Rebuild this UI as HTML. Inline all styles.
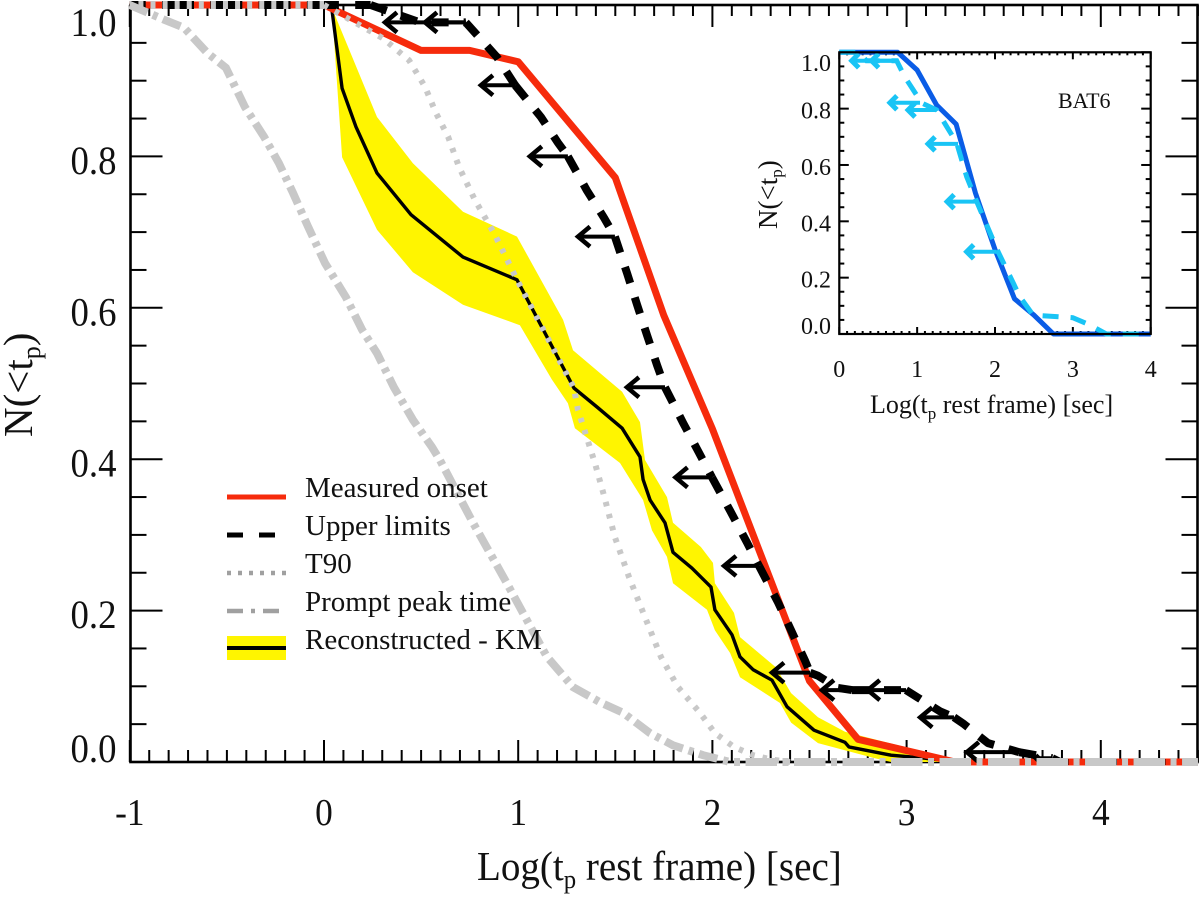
<!DOCTYPE html>
<html>
<head>
<meta charset="utf-8">
<title>N(&lt;tp) cumulative distribution</title>
<style>
html,body{margin:0;padding:0;background:#fff;}
svg{display:block;}
text{font-family:"Liberation Serif",serif;fill:#111;}
</style>
</head>
<body>
<svg id="chart" xmlns="http://www.w3.org/2000/svg" width="1200" height="900" viewBox="0 0 1200 900">
  <rect x="0" y="0" width="1200" height="900" fill="#fff"/>
  <g id="main-axes"></g>
  <g id="main-series"></g>
  <g id="main-labels"></g>

  <text transform="translate(477,880) scale(0.953,1)" font-size="41">Log(t<tspan font-size="26" dy="8">p</tspan><tspan dy="-8"> rest frame) [sec]</tspan></text>
  <text transform="translate(32,437) rotate(-90)" font-size="41">N(&lt;t<tspan font-size="26" dy="8">p</tspan><tspan dy="-8">)</tspan></text>

  <g>
    <line x1="227" x2="286" y1="497" y2="497" stroke="#f62b0c" stroke-width="5"/>
    <text x="305" y="497" font-size="29">Measured onset</text>
    <line x1="227" x2="286" y1="535" y2="535" stroke="#000" stroke-width="5" stroke-dasharray="16 16"/>
    <text x="305" y="535" font-size="29">Upper limits</text>
    <line x1="227" x2="286" y1="573" y2="573" stroke="#a0a0a0" stroke-width="4.5" stroke-dasharray="4 7"/>
    <text x="305" y="573" font-size="29">T90</text>
    <line x1="227" x2="286" y1="611" y2="611" stroke="#a0a0a0" stroke-width="4.5" stroke-dasharray="16 8 4 8"/>
    <text x="305" y="611" font-size="29">Prompt peak time</text>
    <rect x="227" y="636" width="59" height="24" fill="#fff500"/>
    <line x1="227" x2="286" y1="648" y2="648" stroke="#000" stroke-width="4"/>
    <text x="305" y="649" font-size="29">Reconstructed - KM</text>
  </g>

  <g id="inset-axes"></g>
  <g id="inset-series"></g>
  <g id="inset-labels"></g>
  <rect x="839.3" y="52.3" width="311.4" height="281.7" fill="none" stroke="#000" stroke-width="2.2"/>
  <text x="870" y="413" font-size="26">Log(t<tspan font-size="17" dy="6">p</tspan><tspan dy="-6"> rest frame) [sec]</tspan></text>
  <text transform="translate(777,229) rotate(-90)" font-size="27">N(&lt;t<tspan font-size="17" dy="5">p</tspan><tspan dy="-5">)</tspan></text>
  <text x="1058" y="108" font-size="22">BAT6</text>
</svg>
<script>
// ---- main panel data ----
const xTickValues = [-1, 0, 1, 2, 3, 4];
const xTickLabels = ["-1", "0", "1", "2", "3", "4"];
const yTickValues = [0, 0.2, 0.4, 0.6, 0.8, 1.0];
const yTickLabels = ["0.0", "0.2", "0.4", "0.6", "0.8", "1.0"];

const measuredX = [-1, 0, 0.5, 0.75, 1, 1.5, 1.75, 2, 2.25, 2.5, 2.75, 3, 3.25, 4.5];
const measuredY = [1, 1, 0.94, 0.94, 0.925, 0.772, 0.59, 0.44, 0.273, 0.107, 0.03, 0.015, 0, 0];

const limitsX = [-1, 0.24, 0.495, 0.73, 0.891, 0.984, 1.117, 1.205, 1.256, 1.354, 1.442, 1.498, 1.56, 1.612, 1.663, 1.715, 1.756, 1.849, 1.926, 1.998, 2.091, 2.178, 2.24, 2.338, 2.405, 2.477, 2.503, 2.544, 2.642, 2.719, 2.997, 3.059, 3.172, 3.244, 3.295, 3.419, 3.58, 3.75, 3.79, 4.5];
const limitsY = [1, 1, 0.977, 0.977, 0.931, 0.894, 0.852, 0.818, 0.8, 0.755, 0.719, 0.694, 0.646, 0.604, 0.564, 0.524, 0.495, 0.448, 0.411, 0.376, 0.332, 0.29, 0.259, 0.211, 0.174, 0.134, 0.118, 0.114, 0.098, 0.095, 0.095, 0.085, 0.067, 0.059, 0.05, 0.025, 0.013, 0.005, 0, 0];

const arrowHeadX = [0.314, 0.52, 0.808, 1.06, 1.308, 1.56, 1.81, 2.06, 2.307, 2.564, 2.8, 3.07, 3.31, 3.666];
const arrowTailX = [0.73, 0.73, 0.984, 1.256, 1.498, 1.756, 1.998, 2.24, 2.503, 2.719, 2.997, 3.244, 3.58, 3.75];
const arrowY = [0.977, 0.977, 0.894, 0.8, 0.694, 0.495, 0.376, 0.259, 0.118, 0.095, 0.095, 0.059, 0.013, 0.005];

const t90X = [-1, 0, 0.304, 0.438, 0.52, 0.577, 0.639, 0.695, 0.778, 0.875, 0.994, 1.287, 1.308, 1.344, 1.395, 1.442, 1.498, 1.571, 1.658, 1.735, 1.823, 1.936, 2.013, 2.111, 2.209, 2.307, 2.4, 4.5];
const t90Y = [1, 1, 0.956, 0.927, 0.892, 0.857, 0.826, 0.786, 0.742, 0.699, 0.637, 0.494, 0.465, 0.436, 0.395, 0.352, 0.297, 0.244, 0.188, 0.139, 0.099, 0.065, 0.038, 0.02, 0.009, 0.003, 0, 0];

const promptX = [-1, -0.819, -0.721, -0.602, -0.505, -0.407, -0.309, -0.232, -0.16, -0.082, 0.005, 0.113, 0.196, 0.273, 0.36, 0.458, 0.556, 0.597, 0.767, 0.855, 0.942, 1.035, 1.148, 1.205, 1.282, 1.421, 1.54, 1.679, 1.797, 1.952, 2.091, 4.5];
const promptY = [1, 0.98, 0.97, 0.937, 0.917, 0.865, 0.826, 0.791, 0.752, 0.707, 0.659, 0.614, 0.571, 0.54, 0.495, 0.452, 0.416, 0.399, 0.316, 0.276, 0.236, 0.192, 0.139, 0.122, 0.099, 0.079, 0.065, 0.038, 0.022, 0.009, 0, 0];

const kmX = [0, 0.041, 0.093, 0.165, 0.273, 0.448, 0.716, 0.994, 1.287, 1.406, 1.535, 1.627, 1.643, 1.679, 1.756, 1.797, 1.895, 1.993, 2.013, 2.101, 2.142, 2.209, 2.307, 2.384, 2.523, 2.683, 2.703, 2.92, 3.095, 3.254];
const kmY = [1, 0.993, 0.89, 0.839, 0.778, 0.723, 0.667, 0.637, 0.494, 0.469, 0.441, 0.403, 0.373, 0.346, 0.316, 0.277, 0.256, 0.231, 0.201, 0.168, 0.139, 0.122, 0.108, 0.073, 0.042, 0.026, 0.02, 0.009, 0.005, 0];

const bandUpperX = [0, 0.046, 0.273, 0.458, 0.716, 0.994, 1.231, 1.282, 1.535, 1.627, 1.653, 1.766, 1.797, 1.941, 2.003, 2.013, 2.111, 2.142, 2.327, 2.405, 2.544, 2.683, 3.095, 3.234, 3.254];
const bandUpperY = [1, 0.993, 0.852, 0.791, 0.727, 0.694, 0.584, 0.544, 0.489, 0.449, 0.399, 0.35, 0.316, 0.284, 0.263, 0.236, 0.197, 0.165, 0.125, 0.091, 0.059, 0.04, 0.013, 0.003, 0];
const bandLowerX = [0.041, 0.067, 0.093, 0.273, 0.458, 0.716, 1.009, 1.174, 1.256, 1.292, 1.524, 1.643, 1.689, 1.766, 1.797, 1.972, 2.013, 2.091, 2.142, 2.348, 2.405, 2.544, 2.837, 2.92];
const bandLowerY = [0.993, 0.897, 0.799, 0.703, 0.647, 0.604, 0.577, 0.505, 0.474, 0.441, 0.395, 0.346, 0.306, 0.271, 0.236, 0.201, 0.174, 0.144, 0.112, 0.078, 0.052, 0.025, 0.005, 0];

// ---- inset data ----
const insetXTickValues = [0, 1, 2, 3, 4];
const insetXTickLabels = ["0", "1", "2", "3", "4"];
const insetYTickValues = [0, 0.2, 0.4, 0.6, 0.8, 1.0];
const insetYTickLabels = ["0.0", "0.2", "0.4", "0.6", "0.8", "1.0"];
const batMeasuredX = [0, 0.75, 1, 1.25, 1.5, 1.75, 2, 2.25, 2.5, 2.75, 4];
const batMeasuredY = [1, 1, 0.937, 0.813, 0.745, 0.5, 0.3, 0.125, 0.067, 0, 0];
const batLimitsX = [0, 0.25, 0.35, 0.737, 0.84, 1.06, 1.25, 1.508, 1.636, 1.765, 2.04, 2.32, 2.49, 3.0, 3.22, 3.43, 4];
const batLimitsY = [1, 1, 0.97, 0.97, 0.913, 0.82, 0.795, 0.678, 0.558, 0.47, 0.292, 0.132, 0.067, 0.058, 0.032, 0, 0];
const batArrowHeadX = [0.16, 0.415, 0.65, 0.883, 1.14, 1.385, 1.636];
const batArrowTailX = [0.737, 0.737, 1.037, 1.25, 1.525, 1.765, 2.02];
const batArrowY = [0.97, 0.97, 0.821, 0.795, 0.675, 0.47, 0.292];

// ---- scales ----
function sx(v) { return 324 + v * 194.2; }
function sy(v) { return 762 - v * 757; }
function ix(v) { return 839.3 + v * 77.85; }
function iy(v) { return 334 - v * 281.7; }

const NS = "http://www.w3.org/2000/svg";
function mk(parent, tag, attrs) {
  const e = document.createElementNS(NS, tag);
  for (const k in attrs) e.setAttribute(k, attrs[k]);
  parent.appendChild(e);
  return e;
}
function pathFrom(xs, ys, fx, fy) {
  return xs.map((v, i) => (i ? "L" : "M") + fx(v).toFixed(1) + " " + fy(ys[i]).toFixed(1)).join(" ");
}
function pmod(a, m) { return ((a % m) + m) % m; }
const mainAxes = document.getElementById("main-axes");
const mainSeries = document.getElementById("main-series");
const mainLabels = document.getElementById("main-labels");
const insetAxes = document.getElementById("inset-axes");
const insetSeries = document.getElementById("inset-series");
const insetLabels = document.getElementById("inset-labels");

// ---- main axes ----
const frame = mk(mainAxes, "rect", {x: 130.5, y: 5, width: 1067, height: 757, fill: "none", stroke: "#000", "stroke-width": 2.6});



for (let i = -10; i <= 45; i++) {
  const v = i / 10;
  const major = i % 10 === 0;
  const botLen = major ? 22 : 12;
  const topLen = major ? 22 : 11;
  const b = mk(mainAxes, "line", {x1: sx(v), x2: sx(v), y1: 762, y2: 762 - botLen, stroke: "#000", "stroke-width": 2});
  
  
  const t = mk(mainAxes, "line", {x1: sx(v), x2: sx(v), y1: 5, y2: 5 + topLen, stroke: "#000", "stroke-width": 2});
  
  
}
for (let i = 0; i <= 20; i++) {
  const v = i / 20;
  const major = i % 4 === 0;
  const len = major ? 32 : 16;
  const l = mk(mainAxes, "line", {x1: 130.5, x2: 130.5 + len, y1: sy(v), y2: sy(v), stroke: "#000", "stroke-width": 2});
  
  
  const r = mk(mainAxes, "line", {x1: 1197.5, x2: 1197.5 - len, y1: sy(v), y2: sy(v), stroke: "#000", "stroke-width": 2});
  
  
}
xTickValues.forEach((v, i) => {
  const t = mk(mainLabels, "text", {transform: "translate(" + sx(v) + ",825) scale(0.93,1)", "text-anchor": "middle", "font-size": 38});
  t.textContent = xTickLabels[i];
  
  
});
yTickValues.forEach((v, i) => {
  const base = Math.max(36, Math.min(762, sy(v) + 17.5));
  const t = mk(mainLabels, "text", {transform: "translate(116.5," + base + ") scale(0.92,1)", "text-anchor": "end", "font-size": 40});
  t.textContent = yTickLabels[i];
  
  
});

// ---- main series ----
const bandD = pathFrom(bandUpperX, bandUpperY, sx, sy) + " " +
  bandLowerX.slice().reverse().map((v, i) => "L" + sx(v).toFixed(1) + " " + sy(bandLowerY[bandLowerY.length - 1 - i]).toFixed(1)).join(" ") + " Z";
const band = mk(mainSeries, "path", {d: bandD, fill: "#fff500", stroke: "none"});



const kmLine = mk(mainSeries, "path", {d: pathFrom(kmX, kmY, sx, sy), fill: "none", stroke: "#000", "stroke-width": 3.4, "stroke-linejoin": "round"});



const measuredLine = mk(mainSeries, "path", {d: pathFrom(measuredX, measuredY, sx, sy), fill: "none", stroke: "#f62b0c", "stroke-width": 7, "stroke-linejoin": "round"});



// Upper-limits line: long dashes on the flat ends, dash pattern restarts at each arrow tail.
const limFlatTopEnd = limitsY.lastIndexOf(1);
const limFlatBotStart = limitsY.indexOf(0);
const limTopLine = mk(mainSeries, "path", {
  d: pathFrom(limitsX.slice(0, limFlatTopEnd + 1), limitsY.slice(0, limFlatTopEnd + 1), sx, sy),
  fill: "none", stroke: "#000", "stroke-width": 8, "stroke-dasharray": "32 16.3",
  "stroke-dashoffset": pmod(sx(limitsX[0]) - 113.7, 48.3)
});


const limBotLine = mk(mainSeries, "path", {
  d: pathFrom(limitsX.slice(limFlatBotStart), limitsY.slice(limFlatBotStart), sx, sy),
  fill: "none", stroke: "#000", "stroke-width": 6, "stroke-dasharray": "32 16.5",
  "stroke-dashoffset": pmod(sx(limitsX[limFlatBotStart]) - 1036.5, 48.5)
});


let segStart = limFlatTopEnd;
for (let i = limFlatTopEnd + 1; i <= limFlatBotStart; i++) {
  if (arrowTailX.includes(limitsX[i]) || i === limFlatBotStart) {
    const seg = mk(mainSeries, "path", {
      d: pathFrom(limitsX.slice(segStart, i + 1), limitsY.slice(segStart, i + 1), sx, sy),
      fill: "none", stroke: "#000", "stroke-width": 8, "stroke-dasharray": "17 15", "stroke-linejoin": "round"
    });
    
    
    segStart = i;
  }
}

arrowHeadX.forEach((h, i) => {
  const y = sy(arrowY[i]);
  const hx = sx(h);
  const small = i === arrowHeadX.length - 1;
  const ah = small ? 3 : 10;
  const aw = small ? 3 : 12;
  const shaft = mk(mainSeries, "line", {x1: hx, x2: sx(arrowTailX[i]), y1: y, y2: y, stroke: "#000", "stroke-width": 4});
  
  
  const head = mk(mainSeries, "path", {d: "M" + (hx + aw) + " " + (y - ah) + " L" + hx + " " + y + " L" + (hx + aw) + " " + (y + ah), fill: "none", stroke: "#000", "stroke-width": 4.5});
  
  
});

// T90: dots, period commensurate with the prompt pattern on the flat ends.
const t90TopEnd = t90Y.lastIndexOf(1);
const t90BotStart = t90Y.indexOf(0);
const t90Top = mk(mainSeries, "path", {
  d: pathFrom(t90X.slice(0, t90TopEnd + 1), t90Y.slice(0, t90TopEnd + 1), sx, sy),
  fill: "none", stroke: "#c8c8c8", "stroke-width": 8, "stroke-dasharray": "5 7.08",
  "stroke-dashoffset": pmod(sx(t90X[0]) - 150.5, 12.08)
});


const t90Line = mk(mainSeries, "path", {d: pathFrom(t90X.slice(t90TopEnd, t90BotStart + 1), t90Y.slice(t90TopEnd, t90BotStart + 1), sx, sy), fill: "none", stroke: "#c8c8c8", "stroke-width": 6, "stroke-dasharray": "4.5 8"});


const t90Bot = mk(mainSeries, "path", {
  d: pathFrom(t90X.slice(t90BotStart), t90Y.slice(t90BotStart), sx, sy),
  fill: "none", stroke: "#c8c8c8", "stroke-width": 6, "stroke-dasharray": "4.5 7.625",
  "stroke-dashoffset": pmod(sx(t90X[t90BotStart]) - 977.75, 12.125)
});



const flatStart = promptY.indexOf(0);
const promptCurve = mk(mainSeries, "path", {d: pathFrom(promptX.slice(0, flatStart + 1), promptY.slice(0, flatStart + 1), sx, sy), fill: "none", stroke: "#c8c8c8", "stroke-width": 8, "stroke-dasharray": "19 6 5 6"});


const promptFlat = mk(mainSeries, "path", {
  d: pathFrom(promptX.slice(flatStart), promptY.slice(flatStart), sx, sy),
  fill: "none", stroke: "#c8c8c8", "stroke-width": 8, "stroke-dasharray": "31.5 5.5 6 5.5",
  "stroke-dashoffset": pmod(sx(promptX[flatStart]) - 988, 48.5)
});



// ---- inset axes ----
for (let i = 0; i <= 40; i++) {
  const v = i / 10;
  const major = i % 10 === 0;
  const len = major ? 7 : 3;
  const b = mk(insetAxes, "line", {x1: ix(v), x2: ix(v), y1: 334, y2: 334 - len, stroke: "#000", "stroke-width": 2});
  
  
  const t = mk(insetAxes, "line", {x1: ix(v), x2: ix(v), y1: 52.3, y2: 52.3 + len, stroke: "#000", "stroke-width": 2});
  
  
}
for (let i = 0; i <= 20; i++) {
  const v = i / 20;
  const major = i % 4 === 0;
  const len = major ? 9.5 : 5;
  const l = mk(insetAxes, "line", {x1: 839.3, x2: 839.3 + len, y1: iy(v), y2: iy(v), stroke: "#000", "stroke-width": 2});
  
  
  const r = mk(insetAxes, "line", {x1: 1150.7, x2: 1150.7 - len, y1: iy(v), y2: iy(v), stroke: "#000", "stroke-width": 2});
  
  
}
insetXTickValues.forEach((v, i) => {
  const t = mk(insetLabels, "text", {x: ix(v), y: 377, "text-anchor": "middle", "font-size": 24});
  t.textContent = insetXTickLabels[i];
  
  
});
insetYTickValues.forEach((v, i) => {
  const base = Math.max(71, Math.min(334, iy(v) + 10));
  const t = mk(insetLabels, "text", {x: 831, y: base, "text-anchor": "end", "font-size": 24});
  t.textContent = insetYTickLabels[i];
  
  
});

// ---- inset series ----
const batMeasured = mk(insetSeries, "path", {d: pathFrom(batMeasuredX, batMeasuredY, ix, iy), fill: "none", stroke: "#0a5ce6", "stroke-width": 5, "stroke-linejoin": "round"});


const batLimits = mk(insetSeries, "path", {d: pathFrom(batLimitsX, batLimitsY, ix, iy), fill: "none", stroke: "#19c4f5", "stroke-width": 5, "stroke-dasharray": "16 12"});


batArrowHeadX.forEach((h, i) => {
  const y = iy(batArrowY[i]);
  const hx = ix(h);
  const shaft = mk(insetSeries, "line", {x1: hx, x2: ix(batArrowTailX[i]), y1: y, y2: y, stroke: "#19c4f5", "stroke-width": 4});
  
  
  const head = mk(insetSeries, "path", {d: "M" + (hx + 7) + " " + (y - 7) + " L" + hx + " " + y + " L" + (hx + 7) + " " + (y + 7), fill: "none", stroke: "#19c4f5", "stroke-width": 5});
  
  
});
</script>
</body>
</html>
